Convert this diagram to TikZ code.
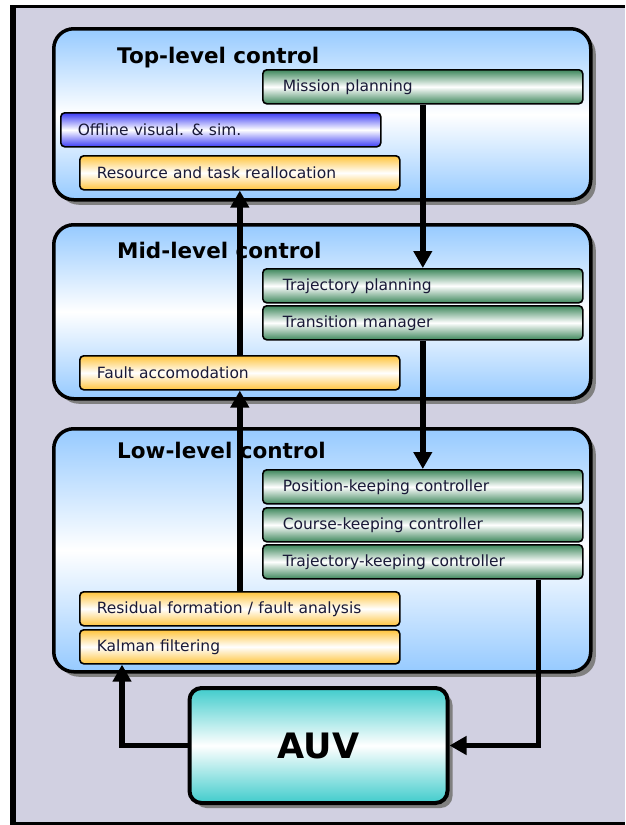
\documentclass[tikz,border=0pt]{standalone}
\usepackage{fontspec}
\setmainfont{DejaVu Sans}
\usepackage{tikz}
\usetikzlibrary{arrows.meta, positioning, shadows}
\definecolor{bggray}{RGB}{209,208,225}
\definecolor{shadowgray}{RGB}{128,128,128}
\definecolor{myblue}{RGB}{150,202,255}
\definecolor{mygreen}{RGB}{62,135,92}
\definecolor{myorange}{RGB}{255,196,60}
\definecolor{myviolet}{RGB}{60,60,245}
\definecolor{myteal}{RGB}{64,204,204}
\definecolor{mydark}{RGB}{25,25,55}
\tikzset{
  level/.style={rectangle, anchor=north west, minimum width=537pt,
    rounded corners=20pt, draw=black, line width=3.5pt,
    top color=myblue, bottom color=myblue, middle color=white,
    drop shadow={shadow xshift=5pt, shadow yshift=-5pt, fill=shadowgray, opacity=1}},
  title/.style={anchor=base west, inner sep=0pt,
    font=\bfseries\fontsize{21.5}{24}\selectfont},
  task/.style={rectangle, anchor=north west, draw=black, line width=1.6pt,
    rounded corners=4pt, minimum height=34pt, text width=286pt, inner xsep=17pt,
    align=left, text=mydark, font=\fontsize{15.5}{18}\selectfont},
  greentask/.style={task, text width=280pt, inner xsep=20pt,
    top color=mygreen, bottom color=mygreen, middle color=white},
  orangetask/.style={task, top color=myorange, bottom color=myorange, middle color=white},
  bluetask/.style={task, top color=myviolet, bottom color=myviolet, middle color=white},
  auvbox/.style={rectangle, draw=black, line width=4pt, rounded corners=12pt,
    minimum width=258pt, minimum height=115pt,
    top color=myteal, bottom color=myteal, middle color=white,
    font=\bfseries\fontsize{35}{40}\selectfont,
    drop shadow={shadow xshift=5pt, shadow yshift=-5pt, fill=shadowgray, opacity=1}},
  arrow/.style={-{Triangle[length=17pt, width=18pt]}, line width=5.5pt, color=black}
}
\begin{document}
\begin{tikzpicture}[x=1pt, y=-1pt]
  \useasboundingbox (0,0) rectangle (625,825);
  % Frame
  \fill[bggray] (16,8) rectangle (625,822);
  \draw[line width=6pt] (13,825) -- (13,6.5);
  \draw[line width=3pt] (10,6.5) -- (625,6.5);
  \draw[line width=3pt] (10,823.5) -- (625,823.5);

  % Control levels
  \node[level, minimum height=171pt] (top) at (52,27) {};
  \node[level, minimum height=174pt] (mid) at (52,223) {};
  \node[level, minimum height=243pt] (low) at (52,427) {};
  \node[title] (toptitle) at (117,63) {Top-level control};
  \node[title] (midtitle) at (117,258) {Mid-level control};
  \node[title] (lowtitle) at (117,458) {Low-level control};

  % Top-level tasks
  \node[greentask] (mission) at (262,69) {Mission planning};
  \node[bluetask] (offline) at (60,112) {Offline visual. \& sim.};
  \node[orangetask] (realloc) at (79,155) {Resource and task reallocation};

  % Mid-level tasks
  \node[greentask] (trajplan) at (262,268) {Trajectory planning};
  \node[greentask] (transman) at (262,305) {Transition manager};
  \node[orangetask] (faultacc) at (79,355) {Fault accomodation};

  % Low-level tasks
  \node[greentask] (poskeep) at (262,469) {Position-keeping controller};
  \node[greentask] (coursekeep) at (262,507) {Course-keeping controller};
  \node[greentask] (trajkeep) at (262,544) {Trajectory-keeping controller};
  \node[orangetask] (residual) at (79,591) {Residual formation / fault analysis};
  \node[orangetask] (kalman) at (79,629) {Kalman filtering};

  % AUV
  \node[auvbox] (auv) at (318.5,745.5) {AUV};

  % Connections
  \draw[arrow] (mission) -- (trajplan);
  \draw[arrow] (transman) -- (poskeep);
  \draw[arrow] ([xshift=-45pt]trajkeep.south east) |- (auv.east);
  \draw[arrow] (auv.west) -| ([xshift=43pt]kalman.south west);
  \draw[arrow] (residual) -- (faultacc);
  \draw[arrow] (faultacc) -- (realloc);
\end{tikzpicture}
\end{document}
